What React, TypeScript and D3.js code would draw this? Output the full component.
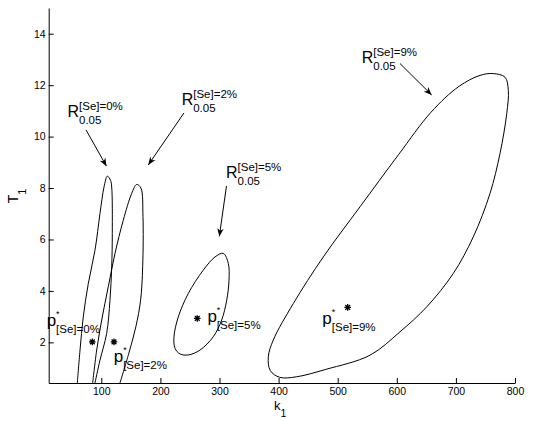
import React, { useRef, useEffect } from "react";
import * as d3 from "d3";

type Pt = [number, number];

// axis ticks
const xTicks = [100, 200, 300, 400, 500, 600, 700, 800];
const yTicks = [2, 4, 6, 8, 10, 12, 14];

// selenium levels, one region per level
const levels = ["0%", "2%", "5%", "9%"];

// 95% confidence regions in (k1, T1); the first two leave through the bottom axis
const region0: Pt[] = [
  [59.4, 0.42], [64, 1.7], [69.5, 2.99], [78, 4.29], [89.3, 5.58], [97.8, 7.01],
  [104.6, 8.04], [110.2, 8.46], [115.6, 8.3], [117.6, 8.04], [118.6, 6.23],
  [117.6, 4.94], [114.7, 3.64], [109.1, 2.35], [97.8, 1.31], [89.3, 0.42],
];
const region2: Pt[] = [
  [85.4, 0.42], [92.2, 1.7], [100.7, 2.87], [111.8, 4.16], [123.2, 5.46], [137.2, 6.75],
  [151.4, 7.79], [159.9, 8.14], [167, 8.0], [170.5, 6.9], [170, 4.94], [166.5, 3.64],
  [158.5, 2.61], [146.5, 1.57], [131.6, 0.42],
];
const region5: Pt[] = [
  [306.4, 5.46], [314.9, 5.07], [316.1, 4.42], [312.2, 3.64], [303.7, 2.87], [289.5, 2.22],
  [267, 1.7], [247.2, 1.51], [233.2, 1.55], [224.7, 1.77], [223, 2.22], [230.3, 2.99],
  [247.2, 3.9], [272.6, 4.81], [292.4, 5.32],
];
const region9: Pt[] = [
  [740.8, 12.38], [763.3, 12.45], [783.1, 12.31], [788.7, 11.8], [786, 10.89], [774.6, 9.34],
  [757.7, 7.79], [729.4, 6.1], [695.6, 4.68], [650.6, 3.38], [605.4, 2.41], [554.6, 1.5],
  [480, 0.95], [430, 0.66], [402, 0.64], [386, 0.9], [382.6, 1.44], [391, 2.09],
  [424.9, 3.51], [475.6, 5.32], [537.7, 7.27], [603, 9.3], [658, 10.95], [705, 11.95],
];

// optimal parameters p*
const optima: Pt[] = [[84.8, 2.02], [121.5, 2.02], [262.4, 2.93], [516.9, 3.36]];

// annotation anchors, in data units
const rLabelAt: Pt[] = [[42.8, 10.78], [236, 11.23], [311, 8.39], [540.6, 12.85]];
const arrowFrom: Pt[] = [[74.1, 10.26], [239.9, 10.92], [311.8, 8.08], [605.4, 12.84]];
const arrowTo: Pt[] = [[108.8, 8.85], [179.5, 8.9], [299.7, 6.12], [659, 11.62]];
const pLabelAt: Pt[] = [[7.5, 2.62], [121, 1.24], [279.5, 2.79], [474, 2.71]];

export default function App() {
  const svgRef = useRef<SVGSVGElement>(null);

  useEffect(() => {
    const width = 535;
    const height = 421;
    const font = "'Liberation Sans', Arial, Helvetica, sans-serif";

    const svg = d3.select(svgRef.current);
    svg.selectAll("*").remove();
    svg.attr("width", width).attr("height", height);

    const x = d3.scaleLinear().domain([11, 800]).range([48.7, 515]);
    const y = d3.scaleLinear().domain([0.42, 15]).range([383, 8]);

    svg.append("defs")
      .append("marker")
      .attr("id", "arrowhead")
      .attr("viewBox", "0 0 10 10")
      .attr("refX", 10)
      .attr("refY", 5)
      .attr("markerWidth", 8)
      .attr("markerHeight", 8)
      .attr("markerUnits", "userSpaceOnUse")
      .attr("orient", "auto")
      .append("path")
      .attr("d", "M0,1 L10,5 L0,9 L3,5 Z")
      .attr("fill", "#000");

    // axes, MATLAB style ticks pointing inward
    const xAxis = d3.axisBottom(x).tickValues(xTicks).tickSize(-5).tickSizeOuter(0).tickPadding(5);
    svg.append("g")
      .attr("transform", `translate(0,${y.range()[0]})`)
      .call(xAxis)
      .attr("font-family", font)
      .attr("font-size", 10.5);

    const yAxis = d3.axisLeft(y).tickValues(yTicks).tickSize(-5).tickSizeOuter(0).tickPadding(3);
    svg.append("g")
      .attr("transform", `translate(${x.range()[0]},0)`)
      .call(yAxis)
      .attr("font-family", font)
      .attr("font-size", 10.5);

    // axis titles
    const xt = svg.append("text")
      .attr("x", 274)
      .attr("y", 410)
      .attr("font-family", font)
      .attr("font-size", 13);
    xt.append("tspan").text("k");
    xt.append("tspan").attr("dy", 7).attr("font-size", 10.5).text("1");

    const yt = svg.append("text")
      .attr("transform", "translate(17.5,196) rotate(-90)")
      .attr("text-anchor", "middle")
      .attr("font-family", font)
      .attr("font-size", 14);
    yt.append("tspan").text("T");
    yt.append("tspan").attr("dy", 8).attr("font-size", 11).text("1");

    // confidence regions
    const openLine = d3.line<Pt>().x((d) => x(d[0])).y((d) => y(d[1])).curve(d3.curveCatmullRom);
    const closedLine = d3.line<Pt>().x((d) => x(d[0])).y((d) => y(d[1])).curve(d3.curveCatmullRomClosed);
    const regions = svg.append("g").attr("fill", "none").attr("stroke", "#000").attr("stroke-width", 1);
    [region0, region2].forEach((r) => regions.append("path").attr("d", openLine(r)));
    [region5, region9].forEach((r) => regions.append("path").attr("d", closedLine(r)));

    // p* markers
    const s = 3.3;
    const star = `M0,${-s}V${s}M${-s},0H${s}M${-s * 0.72},${-s * 0.72}L${s * 0.72},${s * 0.72}M${-s * 0.72},${s * 0.72}L${s * 0.72},${-s * 0.72}`;
    svg.append("g")
      .selectAll("path")
      .data(optima)
      .join("path")
      .attr("transform", (d) => `translate(${x(d[0])},${y(d[1])})`)
      .attr("d", star)
      .attr("stroke", "#000")
      .attr("stroke-width", 1.3)
      .attr("fill", "none");

    // arrows
    svg.append("g")
      .selectAll("line")
      .data(levels)
      .join("line")
      .attr("x1", (_, i) => x(arrowFrom[i][0]))
      .attr("y1", (_, i) => y(arrowFrom[i][1]))
      .attr("x2", (_, i) => x(arrowTo[i][0]))
      .attr("y2", (_, i) => y(arrowTo[i][1]))
      .attr("stroke", "#000")
      .attr("stroke-width", 1)
      .attr("marker-end", "url(#arrowhead)");

    // region labels R^{[Se]=..}_{0.05} and optimum labels p*_{[Se]=..}
    const labels = svg.append("g").attr("font-family", font).attr("fill", "#000");
    levels.forEach((lev, i) => {
      const rx = x(rLabelAt[i][0]);
      const ry = y(rLabelAt[i][1]);
      const rw = 0.722 * 16;
      labels.append("text").attr("x", rx).attr("y", ry).attr("font-size", 16).text("R");
      labels.append("text").attr("x", rx + rw).attr("y", ry - 7).attr("font-size", 11.5).text(`[Se]=${lev}`);
      labels.append("text").attr("x", rx + rw).attr("y", ry + 7).attr("font-size", 11.5).text("0.05");

      const px = x(pLabelAt[i][0]);
      const py = y(pLabelAt[i][1]);
      const pw = 0.556 * 17;
      labels.append("text").attr("x", px).attr("y", py).attr("font-size", 17).text("p");
      labels.append("text").attr("x", px + pw).attr("y", py - 9).attr("font-size", 9).text("*");
      labels.append("text").attr("x", px + pw).attr("y", py + 7).attr("font-size", 11.5).text(`[Se]=${lev}`);
    });
  }, []);

  return <svg ref={svgRef} style={{ position: "absolute", left: 0, top: 0, background: "#fff" }}></svg>;
}
